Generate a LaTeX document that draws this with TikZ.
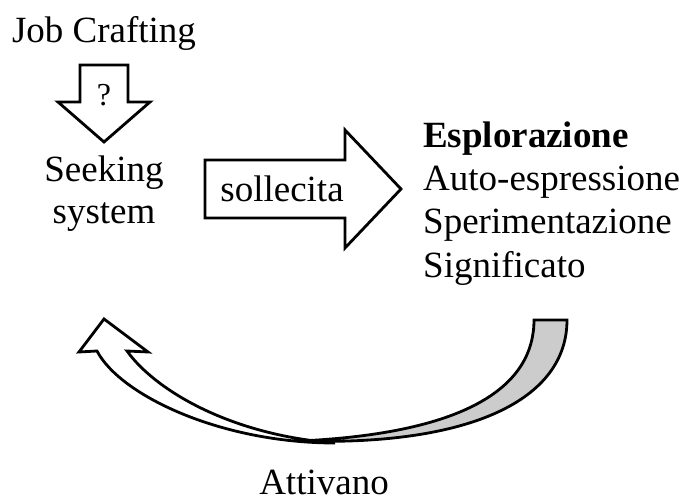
\documentclass[tikz,border=0pt]{standalone}
\usepackage{fontspec}
\setmainfont{Liberation Serif}
\begin{document}
\begin{tikzpicture}[x=1pt,y=-1pt,line join=miter]
\tikzset{
  lbl/.style={font=\fontsize{37}{43}\selectfont, inner sep=0pt, anchor=base},
  lblw/.style={font=\fontsize{37}{43}\selectfont, inner sep=0pt, anchor=base west},
  blockarrow/.style={draw=black, line width=2.8pt, fill=white},
  backface/.style={draw=black, line width=2.8pt, fill=black!20}
}
\useasboundingbox (0,0) rectangle (686,502);

% texts
\node[lbl] (job) at (104,43) {Job Crafting};
\node[lbl] (seek) at (104,182) {Seeking};
\node[lbl] (sys) at (104,224) {system};
\node[lblw] (espl) at (423,148) {\textbf{Esplorazione}};
\node[lblw] (auto) at (423,191) {Auto-espressione};
\node[lblw] (sper) at (423,234) {Sperimentazione};
\node[lblw] (sign) at (423,278) {Significato};

% down block arrow
\draw[blockarrow] (80,65) -- (128,65) -- (128,102) -- (150,102) -- (104,142) -- (58,102) -- (80,102) -- cycle;
\node[font=\fontsize{32}{38}\selectfont, inner sep=0pt, anchor=base] (q) at (104,106) {?};

% right block arrow
\draw[blockarrow] (205,160) -- (345,160) -- (345,130) -- (401,189) -- (345,248) -- (345,218) -- (205,218) -- cycle;
\node[lbl] (soll) at (282,202) {sollecita};

% curved arrow: front face with head
\draw[blockarrow] (127,351) -- (148,352) -- (104,319) -- (79,352) -- (97,351)
  .. controls (120,395) and (220,443) .. (335,443)
  .. controls (230,435) and (155,390) .. (127,351) -- cycle;
% back face
\draw[backface] (567,320) -- (534,320)
  .. controls (534,385) and (470,433) .. (300,441)
  .. controls (470,446) and (567,400) .. (567,320) -- cycle;

\node[lbl] (att) at (324,495) {Attivano};
\end{tikzpicture}
\end{document}
